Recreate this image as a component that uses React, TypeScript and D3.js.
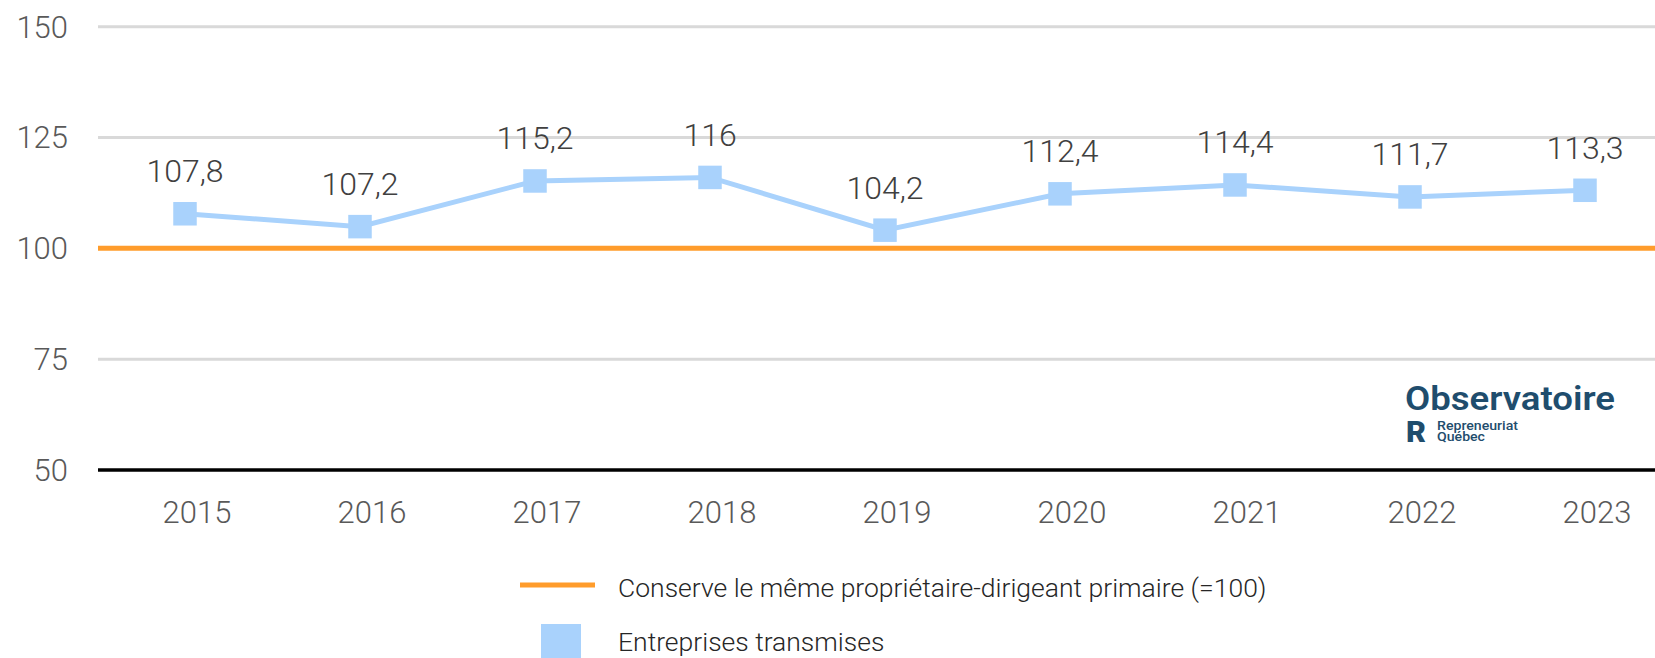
import React from 'react';
import * as d3 from 'd3';

// chart data
const years = ['2015', '2016', '2017', '2018', '2019', '2020', '2021', '2022', '2023'];
// plotted positions as drawn in the source (2016 point sits lower than its label)
const transmises = [107.8, 104.9, 115.2, 116, 104.1, 112.3, 114.3, 111.6, 113.1];
const pointLabels = ['107,8', '107,2', '115,2', '116', '104,2', '112,4', '114,4', '111,7', '113,3'];
const baseline = 100;
const yTicks = [50, 75, 100, 125, 150];
const legendLabels = ['Conserve le même propriétaire-dirigeant primaire (=100)', 'Entreprises transmises'];

const W = 1655;
const H = 658;
const FONT = 'Roboto, "Open Sans", sans-serif';
const BLUE = '#a9d2fc';
const ORANGE = '#ff9c2b';

const App = () => {
    React.useEffect(() => {
        document.body.style.margin = '0';
    }, []);

    const x = d3.scaleBand<string>().domain(years).range([97.5, 1672.5]).padding(0);
    const y = d3.scaleLinear().domain([50, 150]).range([470, 26.7]);
    const cx = (d: string) => (x(d) as number) + x.bandwidth() / 2;

    const line = d3.line<number>()
        .x((_, i) => cx(years[i]))
        .y((d) => y(d));

    const plotLeft = 98;

    return (
        <svg width={W} height={H} style={{ display: 'block' }} fontFamily={FONT}>
            <rect width={W} height={H} fill="#ffffff" />
            {/* gridlines */}
            {yTicks.filter((t) => t !== 50 && t !== baseline).map((t) => (
                <line key={t} x1={plotLeft} x2={W} y1={y(t)} y2={y(t)} stroke="#d9d9d9" strokeWidth={3} />
            ))}
            {/* y tick labels */}
            {yTicks.map((t) => (
                <text key={'yt' + t} x={68} y={y(t)} dy="0.35em" textAnchor="end"
                    fontSize={31} fontWeight={300} fill="#595959">{t}</text>
            ))}
            {/* axis at 50 */}
            <line x1={plotLeft} x2={W} y1={y(50)} y2={y(50)} stroke="#000000" strokeWidth={3.5} />
            {/* baseline 100 */}
            <line x1={plotLeft} x2={W} y1={y(baseline)} y2={y(baseline)} stroke={ORANGE} strokeWidth={5} />
            {/* x labels */}
            {years.map((d) => (
                <text key={'xl' + d} x={cx(d) + 12} y={523} textAnchor="middle"
                    fontSize={31} fontWeight={300} fill="#595959">{d}</text>
            ))}
            {/* series */}
            <path d={line(transmises) || ''} fill="none" stroke={BLUE} strokeWidth={5} />
            {transmises.map((v, i) => (
                <rect key={'m' + i} x={cx(years[i]) - 11.75} y={y(v) - 11.75} width={23.5} height={23.5} fill={BLUE} />
            ))}
            {transmises.map((v, i) => (
                <text key={'lb' + i} x={cx(years[i])} y={y(v) - 31.5} textAnchor="middle"
                    fontSize={32} fontWeight={300} fill="#404040">{pointLabels[i]}</text>
            ))}
            {/* logo */}
            <g fill="#1f4d6d">
                <text x={1405} y={410} fontSize={34} fontWeight={600} textLength={210} lengthAdjust="spacingAndGlyphs">Observatoire</text>
                <text x={1406} y={442} fontSize={29} fontWeight={900} textLength={20} lengthAdjust="spacingAndGlyphs">R</text>
                <text x={1437} y={429.5} fontSize={12} fontWeight={500} textLength={81} lengthAdjust="spacingAndGlyphs">Repreneuriat</text>
                <text x={1437} y={441} fontSize={12} fontWeight={500} textLength={48} lengthAdjust="spacingAndGlyphs">Québec</text>
            </g>
            {/* legend */}
            <line x1={520} x2={595} y1={585} y2={585} stroke={ORANGE} strokeWidth={5} />
            <text x={618} y={596.5} fontSize={26.5} fontWeight={300} fill="#262626">{legendLabels[0]}</text>
            <rect x={541} y={624} width={40} height={40} fill={BLUE} />
            <text x={618} y={650.5} fontSize={26.5} fontWeight={300} fill="#262626">{legendLabels[1]}</text>
        </svg>
    );
};

export default App;
